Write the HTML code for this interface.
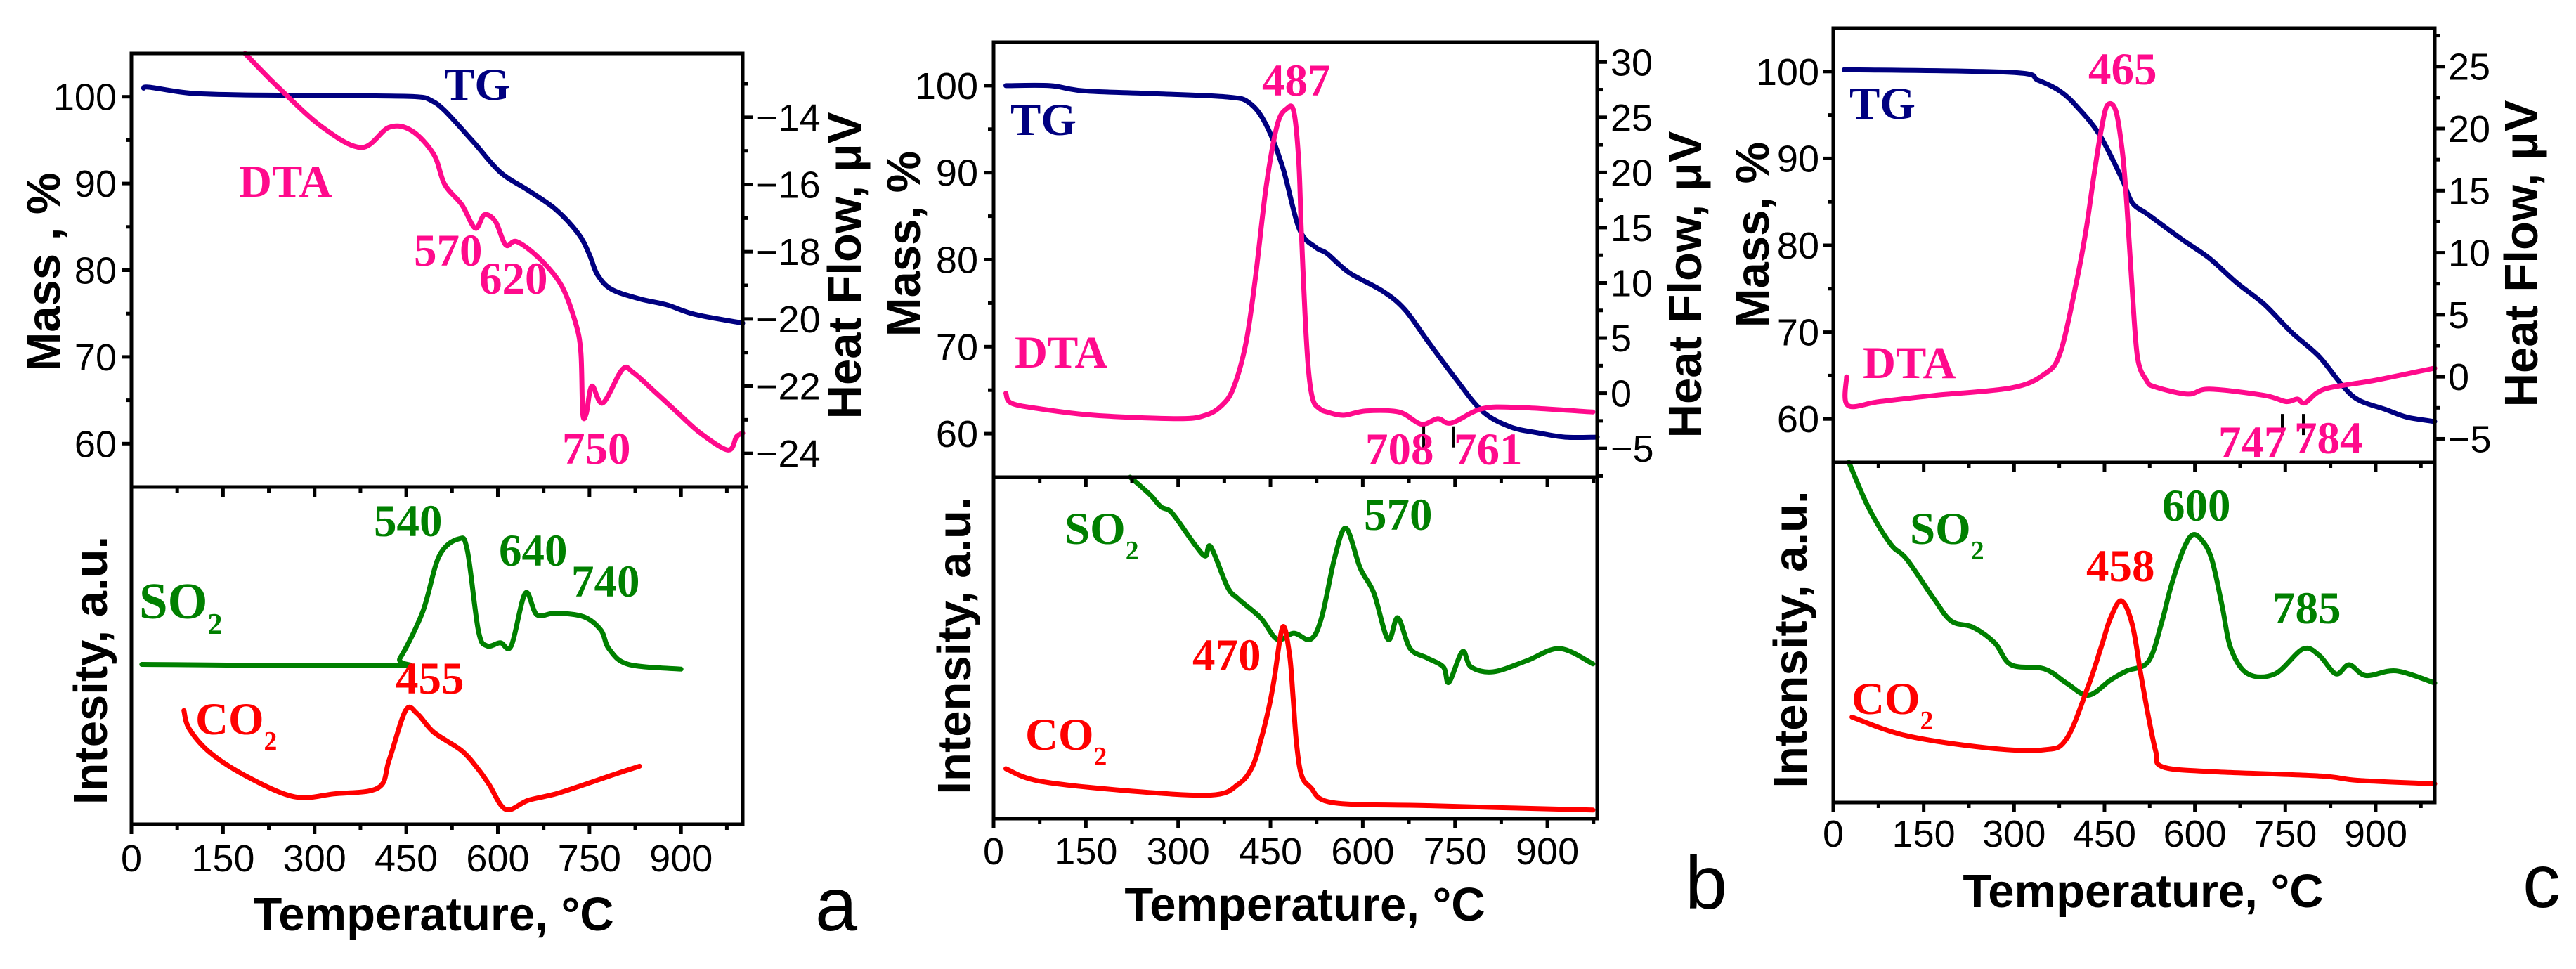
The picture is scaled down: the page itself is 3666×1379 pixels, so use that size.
<!DOCTYPE html>
<html><head><meta charset="utf-8">
<style>
html,body{margin:0;padding:0;background:#fff;}
svg{display:block;}
</style></head>
<body>
<svg id="fig" width="3666" height="1379" xmlns="http://www.w3.org/2000/svg" style="font-family:'Liberation Sans',sans-serif"></svg>
<script>
// ---------- DATA (temperature °C, value) ----------
// Panel a
const aTgT=[20,30,100,200,400,468,490,513,560,604,650,695,732,750,763,786,832,877,923,1001];
const aTgM=[101,101.1,100.4,100.2,100.1,100,99.6,98.4,94.8,91.3,89.2,87,84.2,81.8,79.5,77.8,76.7,76,74.9,73.9];
const aDtaT=[186,240,313,377,422,459,495,513,541,563,578,596,613,631,668,704,727,736,739,745,754,772,804,822,859,895,932,977,991,1001];
const aDtaV=[-12.1,-13.1,-14.3,-14.9,-14.3,-14.4,-15.1,-16.0,-16.6,-17.3,-16.9,-17.1,-17.8,-17.7,-18.2,-19.0,-20.1,-21.0,-22.8,-22.8,-22.0,-22.5,-21.5,-21.6,-22.2,-22.8,-23.4,-23.9,-23.5,-23.4];
const aSoT=[17,422,440,477,504,536,550,568,582,604,622,645,664,695,741,769,782,814,900];
const aSoI=[47.4,47.1,49.3,63.0,79.5,84.6,81.3,57.5,52.9,53.8,52.9,68.5,62.1,62.6,61.5,57.5,52.0,47.4,46.0];
const aCoT=[86,95,131,195,268,331,404,422,449,468,495,541,568,586,613,650,695,741,786,832];
const aCoI=[33.7,28.2,20.9,13.6,8.1,9.0,10.8,19.0,33.7,32.8,27.3,21.8,16.3,11.7,4.4,7.1,9.0,11.7,14.5,17.2];
// Panel b
const bTgT=[20,92,146,254,380,416,443,470,497,524,542,578,632,668,704,749,794,839,884,929,981];
const bTgM=[100,100,99.4,99.1,98.7,98.0,95.5,90.6,83.5,81.4,80.7,78.5,76.4,74.3,70.8,66.5,62.6,60.8,60.1,59.6,59.6];
const bDtaT=[20,29,74,164,299,344,371,390,410,425,443,461,477,488,496,500,506,512,519,530,542,569,605,659,695,722,744,794,857,974];
const bDtaV=[0.0,-0.9,-1.4,-2,-2.3,-2,-1.1,0.5,4.5,10.2,18.7,24.3,25.8,25.5,21,15,7.3,2,-0.6,-1.4,-1.7,-2,-1.6,-1.7,-2.8,-2.3,-2.7,-1.4,-1.3,-1.7];
const bSoT=[222,254,272,290,326,344,353,380,398,434,461,488,515,533,555,573,596,618,641,657,677,704,731,740,762,776,812,866,920,974];
const bSoI=[100,94.9,91.3,89.5,80.5,76.9,79.6,67.9,64.3,58.8,52.5,54.3,52.5,58.8,76.9,85,73.3,66.1,52.5,58.8,49.8,47.1,44.4,39.9,48.9,44.4,43,46.2,49.8,45.3];
const bCoT=[20,74,209,353,398,420,434,448,456,470,481,487,492,500,515,551,704,974];
const bCoI=[14.6,11,8.3,6.9,10.1,15,22.7,33,40.8,56.1,48,35,22.7,13,9.2,4.7,3.8,2.5];
const bMarks=[699,747];
// Panel c
const cTgT=[18,295,340,377,405,441,478,496,523,578,624,669,715,760,806,843,871,916,952,998];
const cTgM=[100.2,99.9,99,97.7,95.9,92.8,87.8,84.9,83.5,80.7,78.5,75.7,73.2,70,67.2,64,62.2,61.1,60.2,59.7];
const cDtaT=[22,24,77,168,295,350,377,405,420,433,445,455,469,480,487,496,505,520,533,588,624,715,751,770,783,815,897,998];
const cDtaV=[0.0,-2.3,-2,-1.5,-0.9,0.2,2,8,12,16.4,20,21.9,21.4,18,13.9,7,1.5,-0.3,-0.8,-1.4,-1,-1.5,-2,-1.8,-2.1,-1,-0.3,0.7];
const cSoT=[26,58,95,122,168,196,232,268,295,350,387,423,460,487,523,545,560,580,596,612,628,645,660,688,733,779,806,834,856,884,934,998];
const cSoI=[100,86.9,76,71.5,59.6,53.3,51.5,46.9,40.5,39.3,35.1,31.5,36,38.7,41.5,53,63.3,74,78.7,77,71.5,58,45.1,37.8,37.8,45.1,43.3,37.8,40.5,37.3,38.7,35.1];
const cCoT=[31,122,259,350,387,423,445,460,478,496,510,523,535,546,624,806,870,998];
const cCoI=[25.1,19.6,16,15.5,18.7,34.2,46,54.2,59.3,52.4,38,25.1,15,10.5,9.1,7.8,6.5,5.5];
const cMarks=[745,780];
// Tick labels
const xTickVals=[0,150,300,450,600,750,900];
const massTickVals=[60,70,80,90,100];
const aHfTicks=[-14,-16,-18,-20,-22,-24];
const bHfTicks=[-5,0,5,10,15,20,25,30];
const cHfTicks=[-5,0,5,10,15,20,25];

const NS='http://www.w3.org/2000/svg';
const svg=document.getElementById('fig');
function mk(tag,attrs,parent){const e=document.createElementNS(NS,tag);for(const k in attrs)e.setAttribute(k,attrs[k]);(parent||svg).appendChild(e);return e;}
function txt(s,x,y,size,opts,parent){const t=mk('text',Object.assign({x:x,y:y,'font-size':size},opts||{}),parent);t.textContent=s;return t;}

const COL={tg:'#000080',dta:'#ff0a8c',so2:'#008000',co2:'#ff0000'};

function smoothPath(pts){
  let d='M'+pts[0][0].toFixed(1)+','+pts[0][1].toFixed(1);
  for(let i=0;i<pts.length-1;i++){
    const p0=pts[Math.max(0,i-1)],p1=pts[i],p2=pts[i+1],p3=pts[Math.min(pts.length-1,i+2)];
    const k=1/6;
    const c1=[p1[0]+(p2[0]-p0[0])*k,p1[1]+(p2[1]-p0[1])*k];
    const c2=[p2[0]-(p3[0]-p1[0])*k,p2[1]-(p3[1]-p1[1])*k];
    d+='C'+c1[0].toFixed(1)+','+c1[1].toFixed(1)+' '+c2[0].toFixed(1)+','+c2[1].toFixed(1)+' '+p2[0].toFixed(1)+','+p2[1].toFixed(1);
  }
  return d;
}

function panel(P){
  const g=mk('g',{});
  
  
  const xs=t=>P.L+(t-P.x0)/(P.x1-P.x0)*(P.R-P.L);
  const ym=m=>P.T+(105-m)/(105-55.0)*(P.M-P.T);
  const yh=v=>P.T+(P.h1-v)/(P.h1-P.h0)*(P.M-P.T);
  const yi=i=>P.M+(100-i)/100*(P.B-P.M);
  function line(T,V,ysc,color,name){
    const pts=T.map((t,i)=>[xs(t),ysc(V[i])]);
    const p=mk('path',{d:smoothPath(pts),fill:'none',stroke:color,'stroke-width':7,'stroke-linejoin':'round','stroke-linecap':'round'},g);
    
    
  }
  line(P.tgT,P.tgM,ym,COL.tg,'tg-line-'+P.id);
  line(P.dtaT,P.dtaV,yh,COL.dta,'dta-line-'+P.id);
  line(P.soT,P.soI,yi,COL.so2,'so2-line-'+P.id);
  line(P.coT,P.coI,yi,COL.co2,'co2-line-'+P.id);
  if(P.marks){for(const m of P.marks){
    const yv=yh(-3);
    const ml=mk('line',{x1:xs(m),x2:xs(m),y1:yv,y2:yv+30,stroke:'#000','stroke-width':4},g);
    
    
  }}
  const ax=mk('g',{stroke:'#000','stroke-width':5,fill:'none'},g);
  
  
  mk('rect',{x:P.L,y:P.T,width:P.R-P.L,height:P.B-P.T},ax);
  mk('line',{x1:P.L,x2:P.R,y1:P.M,y2:P.M},ax);
  for(let t=0;t<=P.x1;t+=75){
    const X=xs(t);const maj=(t%150===0);
    mk('line',{x1:X,x2:X,y1:P.B,y2:P.B+(maj?14:8)},ax);
    mk('line',{x1:X,x2:X,y1:P.M,y2:P.M+(maj?14:8)},ax);
  }
  for(const t of xTickVals){const l=txt(String(t),xs(t),P.xlY,54,{'text-anchor':'middle'},g);
    }
  for(let m=60;m<=100;m+=5){const Y=ym(m);mk('line',{x1:P.L,x2:P.L-((m%10===0)?14:8),y1:Y,y2:Y},ax);}
  for(const m of massTickVals){const l=txt(String(m),P.lRight,ym(m)+19,54,{'text-anchor':'end'},g);
    }
  const hf=P.hfTicks;const step=Math.abs(hf[1]-hf[0]);
  for(let v=Math.ceil(P.h0/(step/2))*(step/2);v<=P.h1;v+=step/2){const Y=yh(v);const maj=Math.abs(v/step-Math.round(v/step))<1e-6;
    mk('line',{x1:P.R,x2:P.R+(maj?14:8),y1:Y,y2:Y},ax);}
  for(const v of hf){const l=txt((v<0?'\u2212':'')+Math.abs(v),P.rLeft,yh(v)+19,54,{},g);
    }
  const tb={'font-weight':'bold','text-anchor':'middle'};
  let t;
  t=txt('Temperature, \u00B0C',P.tX,P.tY,67,tb,g);
  t=txt(P.massTitle,0,0,67,Object.assign({transform:`translate(${P.mX},${P.mY}) rotate(-90)`},tb),g);
  t=txt(P.intTitle,0,0,67,Object.assign({transform:`translate(${P.iX},${P.iY}) rotate(-90)`},tb),g);
  t=txt('Heat Flow, \u03BCV',0,0,67,Object.assign({transform:`translate(${P.hX},${P.hY}) rotate(-90)`},tb),g);
  t=txt(P.id,P.letX,P.letY,108,{},g);
  const tf={'font-family':"'Liberation Serif',serif",'font-weight':'bold'};
  for(const a of P.ann){
    const e=txt(a[0],a[1],a[2],a[4]||65,Object.assign({fill:a[3]},tf),g);
    if(a[5]){const s=mk('tspan',{'font-size':(a[4]||65)*0.58,dy:22},e);s.textContent=a[5];}
    
    
  }
}

panel({id:'a',L:187,R:1057,T:76,M:693,B:1173,x0:0,x1:1001,h0:-25.0,h1:-12.1,
  tgT:aTgT,tgM:aTgM,dtaT:aDtaT,dtaV:aDtaV,soT:aSoT,soI:aSoI,coT:aCoT,coI:aCoI,
  hfTicks:aHfTicks,xlY:1240,lRight:166,rLeft:1076,tX:617,tY:1324,
  massTitle:'Mass , %',mX:85,mY:387,intTitle:'Intesity, a.u.',iX:152,iY:954,hX:1225,hY:378,letX:1160,letY:1324,
  ann:[['TG',632,142,COL.tg],['DTA',340,280,COL.dta],['570',589,378,COL.dta],['620',682,418,COL.dta],['750',800,660,COL.dta],
       ['SO',198,880,COL.so2,73,'2'],['540',532,763,COL.so2],['640',710,805,COL.so2],['740',813,849,COL.so2],
       ['455',563,987,COL.co2],['CO',278,1045,COL.co2,65,'2']]});

panel({id:'b',L:1414,R:2273,T:60,M:679,B:1165,x0:0,x1:981,h0:-7.6,h1:31.8,
  tgT:bTgT,tgM:bTgM,dtaT:bDtaT,dtaV:bDtaV,soT:bSoT,soI:bSoI,coT:bCoT,coI:bCoI,marks:bMarks,
  hfTicks:bHfTicks,xlY:1230,lRight:1392,rLeft:2292,tX:1857,tY:1310,
  massTitle:'Mass, %',mX:1309,mY:347,intTitle:'Intensity, a.u.',iX:1381,iY:919,hX:2421,hY:405,letX:2398,letY:1293,
  ann:[['TG',1438,192,COL.tg],['DTA',1444,523,COL.dta],['487',1796,136,COL.dta],['708',1943,661,COL.dta],['761',2069,661,COL.dta],
       ['SO',1515,774,COL.so2,65,'2'],['570',1941,754,COL.so2],['470',1697,954,COL.co2],['CO',1459,1067,COL.co2,65,'2']]});

panel({id:'c',L:2609,R:3465,T:40,M:658,B:1142,x0:0,x1:998,h0:-6.9,h1:28.1,
  tgT:cTgT,tgM:cTgM,dtaT:cDtaT,dtaV:cDtaV,soT:cSoT,soI:cSoI,coT:cCoT,coI:cCoI,marks:cMarks,
  hfTicks:cHfTicks,xlY:1205,lRight:2589,rLeft:3484,tX:3050,tY:1291,
  massTitle:'Mass, %',mX:2517,mY:334,intTitle:'Intensity, a.u.',iX:2571,iY:910,hX:3611,hY:361,letX:3590,letY:1291,
  ann:[['TG',2632,169,COL.tg],['DTA',2651,538,COL.dta],['465',2972,120,COL.dta],['747',3157,651,COL.dta],['784',3265,645,COL.dta],
       ['SO',2718,774,COL.so2,65,'2'],['600',3077,741,COL.so2],['458',2969,827,COL.co2],['785',3234,887,COL.so2],['CO',2635,1016,COL.co2,65,'2']]});
</script>
</body></html>
